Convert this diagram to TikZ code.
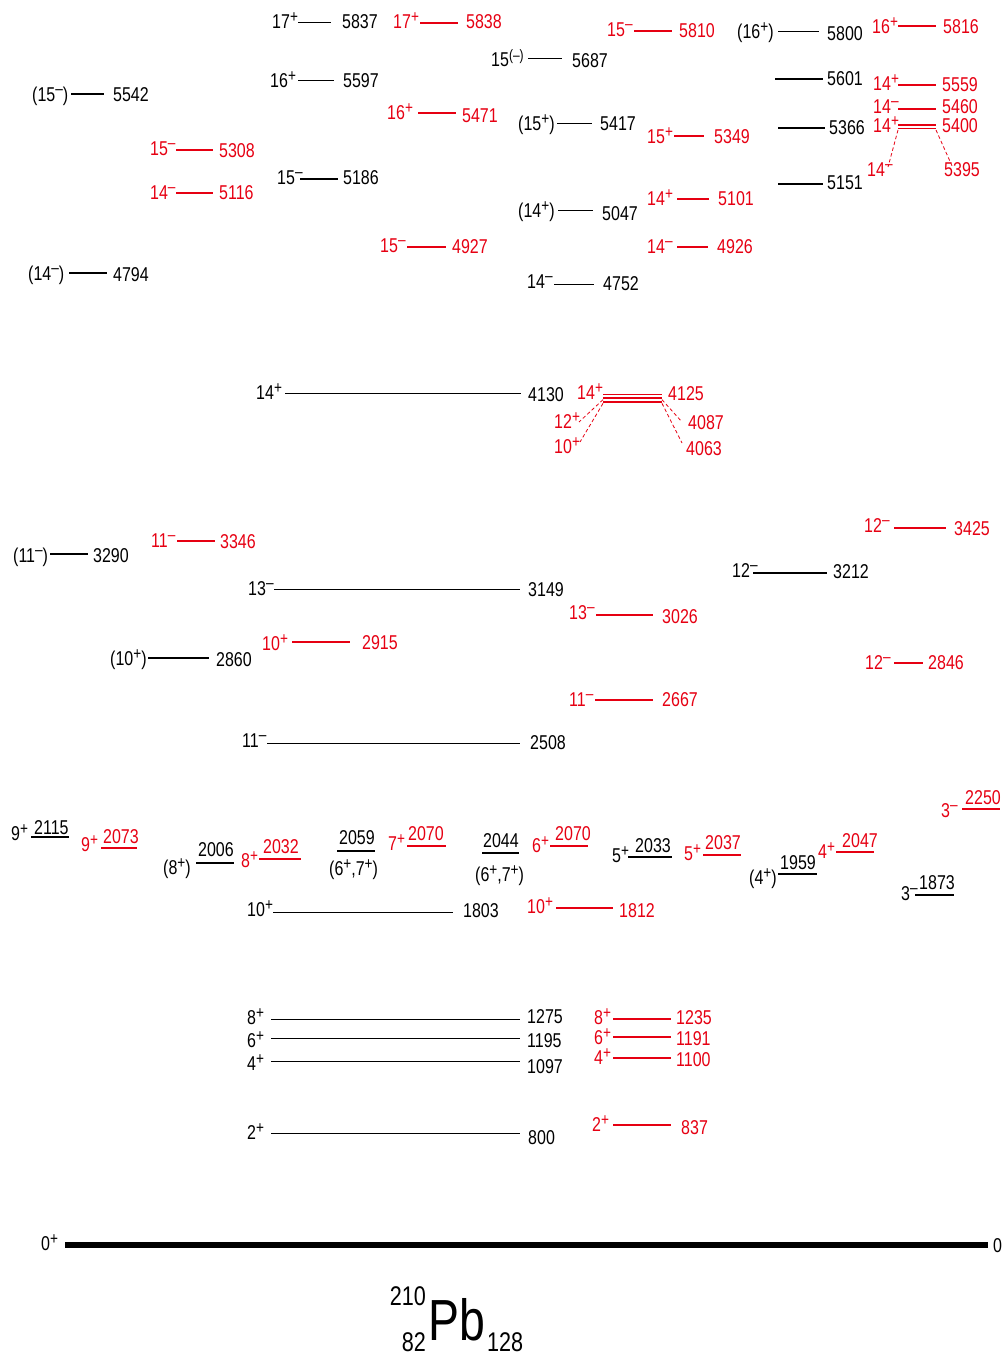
\documentclass[tikz,border=0pt]{standalone}
\usepackage{fontspec}
\setmainfont{Liberation Sans}[FakeStretch=0.8]
\definecolor{lvred}{RGB}{230,0,18}

% spin-parity superscripts
\newcommand\supsz{\fontsize{17}{17}\selectfont}
\newcommand\sP{\raisebox{6pt}{\supsz +}}
\newcommand\sM{\raisebox{7pt}{\supsz –}}
\newcommand\sPM{\raisebox{6pt}{\fontsize{15}{15}\selectfont(–)}}
\newcommand\fsz{\fontsize{20}{22}\selectfont}

% a level: named end points (name-l, name-r) and the line between them
\newcommand\lev[5][]{%
  \coordinate (#2-l) at (#3,#5);
  \coordinate (#2-r) at (#4,#5);
  \draw[#1] (#2-l) -- (#2-r);}
% a label whose digits are centred on height #4
\newcommand\lab[5][]{\node[lab,#1] (#2) at (#3,#4+7) {#5};}

\tikzset{
  thinlev/.style={line width=1pt},
  boldlev/.style={line width=2.2pt},
  heavylev/.style={line width=2.8pt},
  redlev/.style={draw=lvred, line width=2pt},
  groundlev/.style={line width=6pt},
  lab/.style={inner sep=0pt, anchor=base west, font=\fsz},
  rd/.style={text=lvred},
  rdash/.style={draw=lvred, line width=0.8pt, dash pattern=on 3.5pt off 2.5pt},
}

\begin{document}
\begin{tikzpicture}[x=1pt,y=-1pt]
\useasboundingbox (0,0) rectangle (1003,1356);

% ---------- high-lying levels, black ----------
\lev[thinlev]{b5837}{298}{331}{23}
\lab{s5837}{272}{22}{17\sP}
\lab{e5837}{342}{22}{5837}

\lev[thinlev]{b5597}{298}{334}{81}
\lab{s5597}{270}{81}{16\sP}
\lab{e5597}{343}{81}{5597}

\lev[boldlev]{b5542}{71}{104}{94}
\lab{s5542}{32}{95}{(15\sM)}
\lab{e5542}{113}{95}{5542}

\lev[boldlev]{b5186}{300}{338}{179}
\lab{s5186}{277}{178}{15\sM}
\lab{e5186}{343}{178}{5186}

\lev[boldlev]{b4794}{69}{107}{273}
\lab{s4794}{28}{273}{(14\sM)}
\lab{e4794}{113}{274}{4794}

\lev[thinlev]{b5687}{528}{562}{59}
\lab{s5687}{491}{60}{15\sPM}
\lab{e5687}{572}{61}{5687}

\lev[thinlev]{b5417}{557}{592}{124}
\lab{s5417}{518}{124}{(15\sP)}
\lab{e5417}{600}{124}{5417}

\lev[thinlev]{b5047}{558}{593}{211}
\lab{s5047}{518}{211}{(14\sP)}
\lab{e5047}{602}{214}{5047}

\lev[thinlev]{b4752}{554}{594}{284}
\lab{s4752}{527}{281}{14\sM}
\lab{e4752}{603}{283}{4752}

\lev[thinlev]{b5800}{778}{819}{32}
\lab{s5800}{737}{32}{(16\sP)}
\lab{e5800}{827}{34}{5800}

\lev[heavylev]{b5601}{775}{823}{79}
\lab{e5601}{827}{79}{5601}

\lev[heavylev]{b5366}{778}{825}{128}
\lab{e5366}{829}{128}{5366}

\lev[heavylev]{b5151}{778}{823}{184}
\lab{e5151}{827}{183}{5151}

% ---------- high-lying levels, red ----------
\lev[redlev]{r5838}{420}{458}{23}
\lab[rd]{s5838}{393}{22}{17\sP}
\lab[rd]{e5838}{466}{22}{5838}

\lev[redlev]{r5471}{418}{456}{113}
\lab[rd]{s5471}{387}{113}{16\sP}
\lab[rd]{e5471}{462}{116}{5471}

\lev[redlev]{r5308}{176}{213}{150}
\lab[rd]{s5308}{150}{149}{15\sM}
\lab[rd]{e5308}{219}{151}{5308}

\lev[redlev]{r5116}{176}{213}{193}
\lab[rd]{s5116}{150}{193}{14\sM}
\lab[rd]{e5116}{219}{193}{5116}

\lev[redlev]{r4927}{407}{446}{247}
\lab[rd]{s4927}{380}{246}{15\sM}
\lab[rd]{e4927}{452}{247}{4927}

\lev[redlev]{r5810}{634}{672}{31}
\lab[rd]{s5810}{607}{30}{15\sM}
\lab[rd]{e5810}{679}{31}{5810}

\lev[redlev]{r5349}{674}{704}{136}
\lab[rd]{s5349}{647}{137}{15\sP}
\lab[rd]{e5349}{714}{137}{5349}

\lev[redlev]{r5101}{677}{709}{199}
\lab[rd]{s5101}{647}{199}{14\sP}
\lab[rd]{e5101}{718}{199}{5101}

\lev[redlev]{r4926}{677}{708}{247}
\lab[rd]{s4926}{647}{247}{14\sM}
\lab[rd]{e4926}{717}{247}{4926}

\lev[redlev]{r5816}{898}{936}{26}
\lab[rd]{s5816}{872}{27}{16\sP}
\lab[rd]{e5816}{943}{27}{5816}

\lev[redlev]{r5559}{898}{936}{85}
\lab[rd]{s5559}{873}{84}{14\sP}
\lab[rd]{e5559}{942}{85}{5559}

\lev[redlev]{r5460}{898}{936}{109}
\lab[rd]{s5460}{873}{107}{14\sM}
\lab[rd]{e5460}{942}{107}{5460}

% 5400 / 5395 doublet
\lev[redlev, line width=1.6pt]{r5400}{898}{936}{125}
\lev[redlev, line width=1.6pt]{r5395}{898}{936}{128.5}
\lab[rd]{s5400}{873}{126}{14\sP}
\lab[rd]{e5400}{942}{126}{5400}
\lab[rd]{s5395}{867}{170}{14\sM}
\lab[rd]{e5395}{944}{170}{5395}
\draw[rdash] ([yshift=-1.5pt]r5395-l) -- ([xshift=21pt,yshift=-4pt]s5395.north west);
\draw[rdash] ([yshift=-1.5pt]r5395-r) -- ([xshift=8pt,yshift=-3pt]e5395.north west);

% ---------- 14+ levels near 4.1 MeV ----------
\lev[thinlev]{b4130}{285}{521}{393}
\lab{s4130}{256}{392}{14\sP}
\lab{e4130}{528}{394}{4130}

\lev[redlev, line width=1.9pt]{r4125}{603}{662}{394.5}
\lev[redlev, line width=1.9pt]{r4087}{603}{662}{398.2}
\lev[redlev, line width=1.9pt]{r4063}{603}{662}{401.9}
\lab[rd]{s4125}{577}{392}{14\sP}
\lab[rd]{e4125}{668}{393}{4125}
\lab[rd]{s4087}{554}{421}{12\sP}
\lab[rd]{e4087}{688}{422}{4087}
\lab[rd]{s4063}{554}{446}{10\sP}
\lab[rd]{e4063}{686}{448}{4063}
\draw[rdash] ([yshift=-1.5pt]r4087-l) -- (579,422);
\draw[rdash] ([yshift=-1.5pt]r4063-l) -- (580,442);
\draw[rdash] ([yshift=-1.5pt]r4087-r) -- (682,422);
\draw[rdash] ([yshift=-1.5pt]r4063-r) -- (682,443);

% ---------- 2.5 - 3.5 MeV ----------
\lev[boldlev]{b3290}{50}{88}{554}
\lab{s3290}{13}{555}{(11\sM)}
\lab{e3290}{93}{555}{3290}

\lev[thinlev]{b3149}{274}{520}{589}
\lab{s3149}{248}{588}{13\sM}
\lab{e3149}{528}{589}{3149}

\lev[heavylev]{b2860}{148}{209}{658}
\lab{s2860}{110}{658}{(10\sP)}
\lab{e2860}{216}{659}{2860}

\lev[thinlev]{b2508}{267}{520}{743}
\lab{s2508}{242}{740}{11\sM}
\lab{e2508}{530}{742}{2508}

\lev[heavylev]{b3212}{753}{827}{573}
\lab{s3212}{732}{570}{12\sM}
\lab{e3212}{833}{571}{3212}

\lev[redlev]{r3346}{177}{215}{541}
\lab[rd]{s3346}{151}{540}{11\sM}
\lab[rd]{e3346}{220}{541}{3346}

\lev[redlev]{r2915}{292}{350}{642}
\lab[rd]{s2915}{262}{643}{10\sP}
\lab[rd]{e2915}{362}{642}{2915}

\lev[redlev]{r3425}{894}{946}{528}
\lab[rd]{s3425}{864}{525}{12\sM}
\lab[rd]{e3425}{954}{528}{3425}

\lev[redlev]{r3026}{596}{653}{615}
\lab[rd]{s3026}{569}{612}{13\sM}
\lab[rd]{e3026}{662}{616}{3026}

\lev[redlev]{r2846}{894}{923}{663}
\lab[rd]{s2846}{865}{662}{12\sM}
\lab[rd]{e2846}{928}{662}{2846}

\lev[redlev]{r2667}{595}{653}{700}
\lab[rd]{s2667}{569}{699}{11\sM}
\lab[rd]{e2667}{662}{699}{2667}

% ---------- levels near 2 MeV (energy written above the line) ----------
\lev[boldlev, line width=2pt]{b2115}{31}{69}{837}
\lab{s2115}{11}{833}{9\sP}
\lab{e2115}{34}{827}{2115}

\lev[boldlev, line width=2pt]{b2006}{196}{234}{863}
\lab{s2006}{163}{867}{(8\sP)}
\lab{e2006}{198}{849}{2006}

\lev[boldlev, line width=2pt]{b2059}{337}{375}{851}
\lab{e2059}{339}{837}{2059}
\lab{s2059}{329}{868}{(6\sP,7\sP)}

\lev[boldlev, line width=2pt]{b2044}{482}{519}{853}
\lab{e2044}{483}{840}{2044}
\lab{s2044}{475}{874}{(6\sP,7\sP)}

\lev[boldlev, line width=2pt]{b2033}{628}{672}{857}
\lab{s2033}{612}{855}{5\sP}
\lab{e2033}{635}{845}{2033}

\lev[boldlev, line width=2pt]{b1959}{778}{817}{874}
\lab{s1959}{749}{877}{(4\sP)}
\lab{e1959}{780}{862}{1959}

\lev[boldlev, line width=2pt]{b1873}{915}{954}{895}
\lab{s1873}{901}{893}{3\sM}
\lab{e1873}{919}{882}{1873}

\lev[redlev]{r2073}{101}{137}{848}
\lab[rd]{s2073}{81}{844}{9\sP}
\lab[rd]{e2073}{103}{836}{2073}

\lev[redlev]{r2032}{259}{301}{859}
\lab[rd]{s2032}{241}{860}{8\sP}
\lab[rd]{e2032}{263}{846}{2032}

\lev[redlev]{r2070a}{407}{446}{846}
\lab[rd]{s2070a}{388}{843}{7\sP}
\lab[rd]{e2070a}{408}{833}{2070}

\lev[redlev]{r2070b}{550}{588}{846}
\lab[rd]{s2070b}{532}{845}{6\sP}
\lab[rd]{e2070b}{555}{833}{2070}

\lev[redlev]{r2037}{703}{741}{855}
\lab[rd]{s2037}{684}{853}{5\sP}
\lab[rd]{e2037}{705}{842}{2037}

\lev[redlev]{r2047}{836}{874}{852}
\lab[rd]{s2047}{818}{851}{4\sP}
\lab[rd]{e2047}{842}{840}{2047}

\lev[redlev]{r2250}{962}{1000}{809}
\lab[rd]{s2250}{941}{810}{3\sM}
\lab[rd]{e2250}{965}{797}{2250}

% ---------- 10+ isomers ----------
\lev[thinlev]{b1803}{273}{453}{912}
\lab{s1803}{247}{909}{10\sP}
\lab{e1803}{463}{910}{1803}

\lev[redlev]{r1812}{556}{613}{908}
\lab[rd]{s1812}{527}{906}{10\sP}
\lab[rd]{e1812}{619}{910}{1812}

% ---------- yrast band ----------
\lev[thinlev]{b1275}{271}{520}{1019}
\lab{s1275}{247}{1017}{8\sP}
\lab{e1275}{527}{1016}{1275}

\lev[thinlev]{b1195}{271}{520}{1038}
\lab{s1195}{247}{1040}{6\sP}
\lab{e1195}{527}{1040}{1195}

\lev[thinlev]{b1097}{271}{520}{1061}
\lab{s1097}{247}{1063}{4\sP}
\lab{e1097}{527}{1066}{1097}

\lev[thinlev]{b800}{271}{520}{1133}
\lab{s800}{247}{1132}{2\sP}
\lab{e800}{528}{1137}{800}

\lev[redlev]{r1235}{613}{671}{1019}
\lab[rd]{s1235}{594}{1017}{8\sP}
\lab[rd]{e1235}{676}{1017}{1235}

\lev[redlev]{r1191}{613}{671}{1037}
\lab[rd]{s1191}{594}{1037}{6\sP}
\lab[rd]{e1191}{676}{1038}{1191}

\lev[redlev]{r1100}{613}{671}{1058}
\lab[rd]{s1100}{594}{1057}{4\sP}
\lab[rd]{e1100}{676}{1059}{1100}

\lev[redlev]{r837}{613}{671}{1125}
\lab[rd]{s837}{592}{1124}{2\sP}
\lab[rd]{e837}{681}{1127}{837}

% ---------- ground state ----------
\lev[groundlev]{g0}{65}{988}{1245}
\lab{s0}{41}{1243}{0\sP}
\lab{e0}{993}{1245}{0}

% ---------- nucleus ----------
\node[inner sep=0pt, anchor=base west, font=\fontsize{58}{60}\selectfont] (pb) at (428,1340) {Pb};
\node[inner sep=0pt, anchor=base east, font=\fontsize{27}{30}\selectfont] (amass) at (426,1305) {210};
\node[inner sep=0pt, anchor=base east, font=\fontsize{27}{30}\selectfont] (zcharge) at (426,1351) {82};
\node[inner sep=0pt, anchor=base west, font=\fontsize{27}{30}\selectfont] (nnum) at (487,1351) {128};
\end{tikzpicture}
\end{document}
